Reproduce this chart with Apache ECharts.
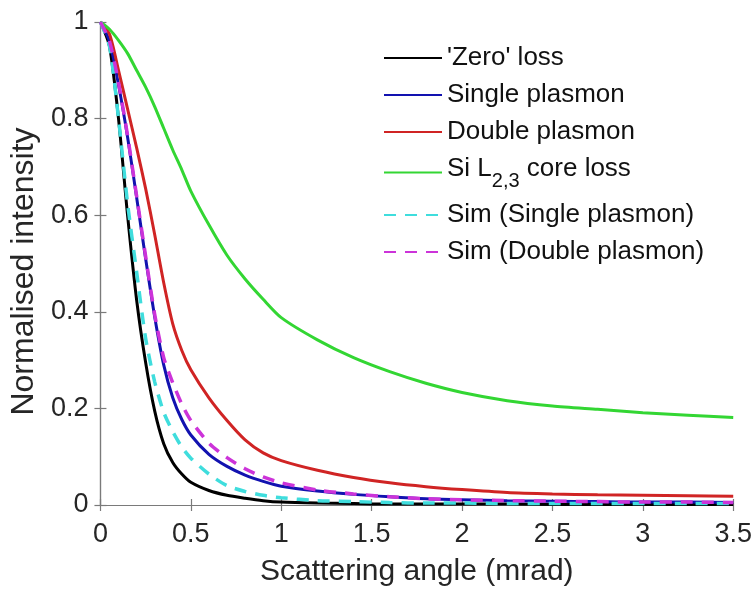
<!DOCTYPE html>
<html>
<head>
<meta charset="utf-8">
<script src="https://cdn.jsdelivr.net/npm/echarts@6/dist/echarts.min.js"></script>
<style>
html,body{margin:0;padding:0;background:#fff;}
#chart{width:755px;height:592px;}
</style>
</head>
<body>
<div id="chart"></div>
<script>
// Scattering angle (mrad)
var angles = [0, 0.05, 0.1, 0.15, 0.2, 0.25, 0.3, 0.35, 0.4, 0.45, 0.5, 0.6, 0.7, 0.8, 0.9, 1.0, 1.2, 1.4, 1.6, 1.8, 2.0, 2.25, 2.5, 2.75, 3.0, 3.25, 3.5];

var seriesNames = ["'Zero' loss", "Single plasmon", "Double plasmon", "Si L2,3 core loss", "Sim (Single plasmon)", "Sim (Double plasmon)"];

var zeroLoss = [1, 0.95, 0.80, 0.60, 0.425, 0.295, 0.195, 0.127, 0.088, 0.064, 0.047, 0.03, 0.02, 0.014, 0.009, 0.006, 0.004, 0.003, 0.002, 0.002, 0.002, 0.002, 0.001, 0.001, 0.001, 0.001, 0.001];
var singlePlasmon = [1, 0.96, 0.87, 0.762, 0.637, 0.51, 0.39, 0.29, 0.222, 0.177, 0.145, 0.105, 0.08, 0.062, 0.049, 0.039, 0.029, 0.022, 0.017, 0.013, 0.011, 0.009, 0.008, 0.007, 0.006, 0.006, 0.005];
var doublePlasmon = [1, 0.975, 0.90, 0.82, 0.74, 0.655, 0.56, 0.46, 0.375, 0.32, 0.28, 0.222, 0.175, 0.135, 0.108, 0.092, 0.072, 0.057, 0.046, 0.038, 0.032, 0.026, 0.023, 0.021, 0.020, 0.019, 0.018];
var siCoreLoss = [1, 0.985, 0.962, 0.935, 0.9, 0.865, 0.825, 0.78, 0.735, 0.694, 0.65, 0.58, 0.517, 0.468, 0.426, 0.388, 0.342, 0.305, 0.276, 0.252, 0.233, 0.216, 0.205, 0.198, 0.191, 0.186, 0.181];
var simSingle = [1, 0.95, 0.80, 0.625, 0.483, 0.345, 0.255, 0.192, 0.152, 0.12, 0.097, 0.064, 0.04, 0.028, 0.02, 0.015, 0.009, 0.007, 0.005, 0.004, 0.004, 0.003, 0.003, 0.003, 0.003, 0.003, 0.003];
var simDouble = [1, 0.96, 0.875, 0.765, 0.64, 0.515, 0.395, 0.305, 0.253, 0.209, 0.175, 0.128, 0.098, 0.075, 0.058, 0.046, 0.031, 0.023, 0.017, 0.013, 0.011, 0.009, 0.008, 0.007, 0.006, 0.006, 0.005];

var xTicks = {min: 0, max: 3.5, interval: 0.5};
var yTicks = {min: 0, max: 1, interval: 0.2};

var colors = ['#000000', '#1212b0', '#d02424', '#33d633', '#3fdddd', '#cc33d9'];
var values = [zeroLoss, singlePlasmon, doublePlasmon, siCoreLoss, simSingle, simDouble];
var dashed = [false, false, false, false, true, true];

function pairs(v) {
  return angles.map(function (a, i) { return [a, v[i]]; });
}

var series = seriesNames.map(function (name, i) {
  return {
    name: name,
    type: 'line',
    data: pairs(values[i]),
    showSymbol: false,
    symbol: 'none',
    smooth: 0.25,
    z: 2 + i,
    color: colors[i],
    lineStyle: {
      color: colors[i],
      width: dashed[i] ? 3.5 : 3,
      type: dashed[i] ? [12, 9] : 'solid'
    },
    emphasis: {disabled: true}
  };
});

var axisColor = '#7a7a7a';
var textColor = '#262626';
var font = 'Liberation Sans, Arial, sans-serif';

function xAxisDef(pos, labels) {
  return {
    type: 'value',
    position: pos,
    min: xTicks.min, max: xTicks.max, interval: xTicks.interval,
    axisLine: {show: true, lineStyle: {color: axisColor, width: 1.2}},
    axisTick: {show: true, inside: true, length: 6, lineStyle: {color: axisColor, width: 1.2}},
    axisLabel: {show: labels, color: textColor, fontSize: 27, fontFamily: font, margin: 16},
    splitLine: {show: false},
    name: labels ? 'Scattering angle (mrad)' : '',
    nameLocation: 'middle',
    nameGap: 52,
    nameTextStyle: {color: textColor, fontSize: 30, fontFamily: font}
  };
}
function yAxisDef(pos, labels) {
  return {
    type: 'value',
    position: pos,
    min: yTicks.min, max: yTicks.max, interval: yTicks.interval,
    axisLine: {show: true, lineStyle: {color: axisColor, width: 1.2}},
    axisTick: {show: true, inside: true, length: 6, lineStyle: {color: axisColor, width: 1.2}},
    axisLabel: {show: labels, color: textColor, fontSize: 27, fontFamily: font, margin: 12},
    splitLine: {show: false},
    name: labels ? 'Normalised intensity' : '',
    nameLocation: 'middle',
    nameGap: 60,
    nameTextStyle: {color: textColor, fontSize: 32, fontFamily: font, padding: [0, 16, 0, 0]}
  };
}

var chart = echarts.init(document.getElementById('chart'), null, {renderer: 'canvas'});
chart.setOption({
  animation: false,
  backgroundColor: '#ffffff',
  grid: {left: 97, top: 22, right: 21, bottom: 83, containLabel: false},
  xAxis: [xAxisDef('bottom', true), xAxisDef('top', false)],
  yAxis: [yAxisDef('left', true), yAxisDef('right', false)],
  legend: {
    data: seriesNames,
    orient: 'vertical',
    left: 383,
    top: 45,
    padding: 0,
    itemGap: 11,
    itemWidth: 58,
    itemHeight: 14,
    selectedMode: false,
    itemStyle: {color: 'rgba(0,0,0,0)', borderColor: 'rgba(0,0,0,0)', borderWidth: 0, opacity: 0},
    formatter: function (name) {
      if (name === seriesNames[3]) {
        return '{n|Si L}{s|2,3}{n| core loss}';
      }
      return name;
    },
    textStyle: {
      color: '#111111',
      fontSize: 26,
      fontFamily: font,
      lineHeight: 26,
      rich: {
        n: {fontSize: 26, fontFamily: font, color: '#111111', height: 26, lineHeight: 33, verticalAlign: 'top'},
        s: {fontSize: 20, fontFamily: font, color: '#111111', height: 20, lineHeight: 33, padding: [15, 0, 0, 0], verticalAlign: 'top'}
      }
    }
  },
  series: series
});
</script>
</body>
</html>
